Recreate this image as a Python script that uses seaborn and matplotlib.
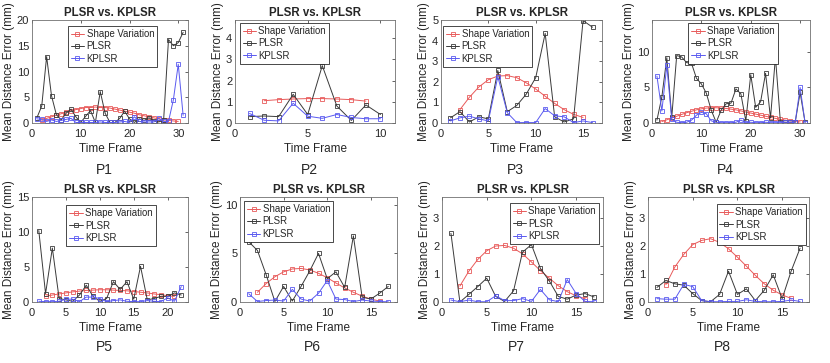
import numpy as np
import matplotlib
matplotlib.use("Agg")
import matplotlib.pyplot as plt
from matplotlib.lines import Line2D
import seaborn as sns

# --- data (mean distance error, mm) ---
p1_plsr = [1.0, 3.3, 12.9, 5.3, 1.6, 0.6, 1.9, 2.7, 1.2, 0.1, 1.3, 2.4, 0.1, 6.1, 1.9, 0.1,
           0.1, 0.9, 2.3, 0.8, 0.1, 0.8, 0.5, 1.0, 0.4, 0.2, 0.6, 16.2, 15.0, 15.6, 17.6]
p1_kplsr = [0.8, 0.7, 0.3, 0.6, 0.3, 0.5, 0.7, 0.9, 0.1, 0.1, 0.1, 0.1, 0.1, 0.2, 0.1, 0.1,
            0.1, 0.2, 0.3, 0.1, 1.2, 0.3, 0.2, 0.2, 0.2, 0.9, 0.3, 0.3, 4.5, 11.4, 1.5]
p1_shape = [0.5, 0.9, 1.2, 1.5, 1.8, 2.1, 2.4, 2.6, 2.8, 3.0, 3.0, 3.1, 3.0, 3.0, 2.9, 2.7,
            2.5, 2.3, 2.1, 1.9, 1.6, 1.4, 1.2, 1.0, 0.8, 0.6, 0.5, 0.4, 0.3]

p2_plsr = [0.3, 0.33, 0.3, 1.35, 0.4, 2.7, 0.8, 0.12, 0.85, 0.4]
p2_kplsr = [0.45, 0.13, 0.1, 0.93, 0.32, 0.22, 0.4, 0.26, 0.2, 0.2]
p2_shape = [1.05, 1.1, 1.13, 1.15, 1.15, 1.13, 1.1, 1.03]

p3_plsr = [0.25, 0.55, 0.05, 0.3, 0.2, 2.55, 0.55, 0.85, 1.4, 2.2, 4.35, 0.3, 0.05, 0.2,
           4.97, 4.65]
p3_kplsr = [0.1, 0.25, 0.33, 0.2, 0.1, 2.25, 0.5, 0.02, 0.02, 0.02, 0.7, 0.35, 0.3, 0.02,
            0.1, 0.02]
p3_shape = [0.65, 1.25, 1.75, 2.1, 2.28, 2.3, 2.2, 1.95, 1.65, 1.3, 0.95, 0.65, 0.42, 0.27]

p4_plsr = [0.4, 3.7, 9.2, 0.8, 9.5, 9.3, 8.5, 8.4, 6.3, 5.5, 4.2, 1.8, 0.1, 1.8, 2.7, 2.8,
           4.8, 4.1, 0.3, 6.8, 2.2, 3.0, 7.0, 0.7, 9.3, 0.2, 0.1, 0.1, 0.1, 4.3, 0.1]
p4_kplsr = [6.6, 1.7, 8.1, 0.5, 0.1, 0.05, 0.1, 0.4, 1.1, 1.5, 1.3, 0.3, 0.1, 0.05, 0.05,
            0.05, 0.1, 0.4, 0.05, 0.1, 0.05, 0.05, 0.1, 0.05, 0.05, 0.05, 0.1, 0.1, 0.1,
            5.0, 0.05]
p4_shape = [0.2, 0.45, 0.7, 0.95, 1.2, 1.45, 1.65, 1.85, 2.0, 2.1, 2.15, 2.15, 2.1, 2.05,
            1.95, 1.85, 1.7, 1.55, 1.4, 1.25, 1.1, 0.95, 0.8, 0.65, 0.5, 0.4, 0.3, 0.2, 0.15]

p5_plsr = [10.2, 1.2, 7.7, 0.5, 0.3, 0.1, 1.0, 2.4, 0.8, 0.1, 0.5, 2.9, 1.8, 2.9, 0.4, 5.1,
           0.3, 0.5, 0.8, 0.8, 1.3, 1.0]
p5_kplsr = [0.1, 0.05, 0.05, 0.1, 0.4, 0.4, 0.05, 0.7, 0.7, 0.5, 0.05, 0.2, 0.3, 0.1, 0.05,
            0.05, 0.2, 0.1, 0.05, 0.6, 0.1, 2.2]
p5_shape = [0.8, 1.0, 1.15, 1.3, 1.45, 1.55, 1.65, 1.7, 1.75, 1.75, 1.7, 1.65, 1.6, 1.5,
            1.4, 1.3, 1.15, 1.05, 0.9, 0.8]

p6_plsr = [6.2, 5.3, 2.8, 0.05, 1.6, 0.1, 1.6, 3.2, 5.0, 2.4, 3.1, 1.5, 6.8, 0.5, 0.3, 0.9,
           1.6]
p6_kplsr = [0.85, 0.05, 0.15, 0.2, 0.1, 1.3, 0.3, 0.1, 0.9, 2.2, 0.3, 0.25, 0.05, 0.2, 0.1,
            0.05, 0.02]
p6_shape = [1.0, 1.9, 2.6, 3.1, 3.4, 3.45, 3.3, 2.95, 2.5, 1.95, 1.45, 1.0, 0.6, 0.3, 0.1]

p7_plsr = [2.45, 0.0, 0.27, 0.55, 0.85, 0.2, 0.02, 0.4, 1.78, 2.05, 1.2, 0.75, 0.2, 0.1,
           0.25, 0.3, 0.18]
p7_kplsr = [0.07, 0.01, 0.07, 0.01, 0.01, 0.22, 0.05, 0.05, 0.12, 0.02, 0.45, 0.08, 0.01,
            0.8, 0.3, 0.02, 0.01]
p7_shape = [0.57, 1.1, 1.52, 1.83, 2.0, 2.02, 1.92, 1.72, 1.43, 1.12, 0.85, 0.58, 0.37,
            0.22, 0.12]

p8_plsr = [0.52, 0.77, 0.65, 0.6, 0.3, 0.05, 0.01, 0.27, 1.1, 0.27, 0.47, 0.05, 0.42, 0.97,
           0.12, 1.1, 1.92]
p8_kplsr = [0.12, 0.1, 0.1, 0.63, 0.55, 0.05, 0.01, 0.01, 0.02, 0.02, 0.08, 0.02, 0.01,
            0.01, 0.02, 0.07, 0.02]
p8_shape = [0.62, 1.25, 1.7, 2.05, 2.2, 2.26, 2.13, 1.9, 1.6, 1.28, 0.95, 0.65, 0.42, 0.25,
            0.13]

panel_names = ["P1", "P2", "P3", "P4", "P5", "P6", "P7", "P8"]
plsr_all = [p1_plsr, p2_plsr, p3_plsr, p4_plsr, p5_plsr, p6_plsr, p7_plsr, p8_plsr]
kplsr_all = [p1_kplsr, p2_kplsr, p3_kplsr, p4_kplsr, p5_kplsr, p6_kplsr, p7_kplsr, p8_kplsr]
shape_all = [p1_shape, p2_shape, p3_shape, p4_shape, p5_shape, p6_shape, p7_shape, p8_shape]
y_max = [20, 4.85, 5, 14.5, 15, 10.8, 3.75, 3.75]
x_ticks = [[0, 10, 20, 30], [0, 5, 10], [0, 5, 10, 15], [0, 10, 20, 30],
           [0, 5, 10, 15, 20], [0, 5, 10, 15], [0, 5, 10, 15], [0, 5, 10, 15]]
y_ticks = [[0, 5, 10, 15, 20], [0, 1, 2, 3, 4], [0, 1, 2, 3, 4, 5], [0, 5, 10],
           [0, 5, 10, 15], [0, 5, 10], [0, 1, 2, 3], [0, 1, 2, 3]]

# layout in pixels (left, right) per panel, (top, bottom) per row
W, H = 830, 363
cols = [(32, 188), (235, 395), (441, 602), (652, 810),
        (32, 188), (240, 397), (442, 603), (648, 809)]
rows = [(20, 123)] * 4 + [(197, 302)] * 4
# legend placement: (loc, anchor in axes fraction)
legend_pos = [("upper left", (0.23, 0.94)), ("upper left", (0.03, 0.97)),
              ("upper left", (0.012, 0.94)), ("upper left", (0.23, 0.97)),
              ("upper left", (0.22, 0.92)), ("upper left", (0.025, 0.96)),
              ("upper right", (0.975, 0.94)), ("upper right", (0.98, 0.93))]

sns.set_theme(style="white")
plt.rcParams["font.family"] = ["Liberation Sans", "DejaVu Sans"]

series_names = ["Shape Variation", "PLSR", "KPLSR"]
series_colors = ["#e85a5a", "#3a3a3a", "#5a5af0"]
mark = dict(marker="s", markersize=2.6, markerfacecolor="none",
            markeredgewidth=0.6, linewidth=0.7)

fig = plt.figure(figsize=(W / 100, H / 100), dpi=100)

for i in range(8):
    l, r = cols[i]
    t, b = rows[i]
    ax = fig.add_axes([l / W, 1 - b / H, (r - l) / W, (b - t) / H])

    plsr = plsr_all[i]
    kplsr = kplsr_all[i]
    shape = shape_all[i]
    x_pred = np.arange(1, len(plsr) + 1)
    x_shape = np.arange(2, len(shape) + 2)

    xs = [x_shape, x_pred, x_pred]
    ys = [shape, plsr, kplsr]
    for x, y, c in zip(xs, ys, series_colors):
        sns.lineplot(x=x, y=y, color=c, markeredgecolor=c, errorbar=None,
                     legend=False, ax=ax, **mark)

    ax.set_xlim(0, len(plsr) + 1)
    ax.set_ylim(0, y_max[i])
    ax.set_xticks(x_ticks[i])
    ax.set_yticks(y_ticks[i])
    ax.tick_params(direction="in", top=True, right=True, length=2.5, width=0.5,
                   labelsize=8, colors="#262626")
    ax.tick_params(axis="x", pad=4.5)
    ax.tick_params(axis="y", pad=2)
    for sp in ax.spines.values():
        sp.set_color("#707070")
        sp.set_linewidth(0.6)

    ax.set_title("PLSR vs. KPLSR", fontsize=8.3, fontweight="bold", pad=3)
    ax.set_xlabel("Time Frame", fontsize=8.5, labelpad=3)
    ax.set_ylabel("Mean Distance Error (mm)", fontsize=8.5, labelpad=1.5)

    handles = [Line2D([], [], color=c, markeredgecolor=c, **mark) for c in series_colors]
    loc, anchor = legend_pos[i]
    leg = ax.legend(handles, series_names, loc=loc, bbox_to_anchor=anchor,
                    borderaxespad=0, fontsize=6.9, frameon=True, fancybox=False,
                    edgecolor="black", framealpha=1, handlelength=1.4,
                    handletextpad=0.25, labelspacing=0.25, borderpad=0.3)
    leg.get_frame().set_linewidth(0.5)

    label_y = 170 if i < 4 else 347
    fig.text(((l + r) / 2 - 6) / W, 1 - label_y / H, panel_names[i],
             fontsize=10, ha="center", va="center")

fig.savefig("out.png", dpi=100)
